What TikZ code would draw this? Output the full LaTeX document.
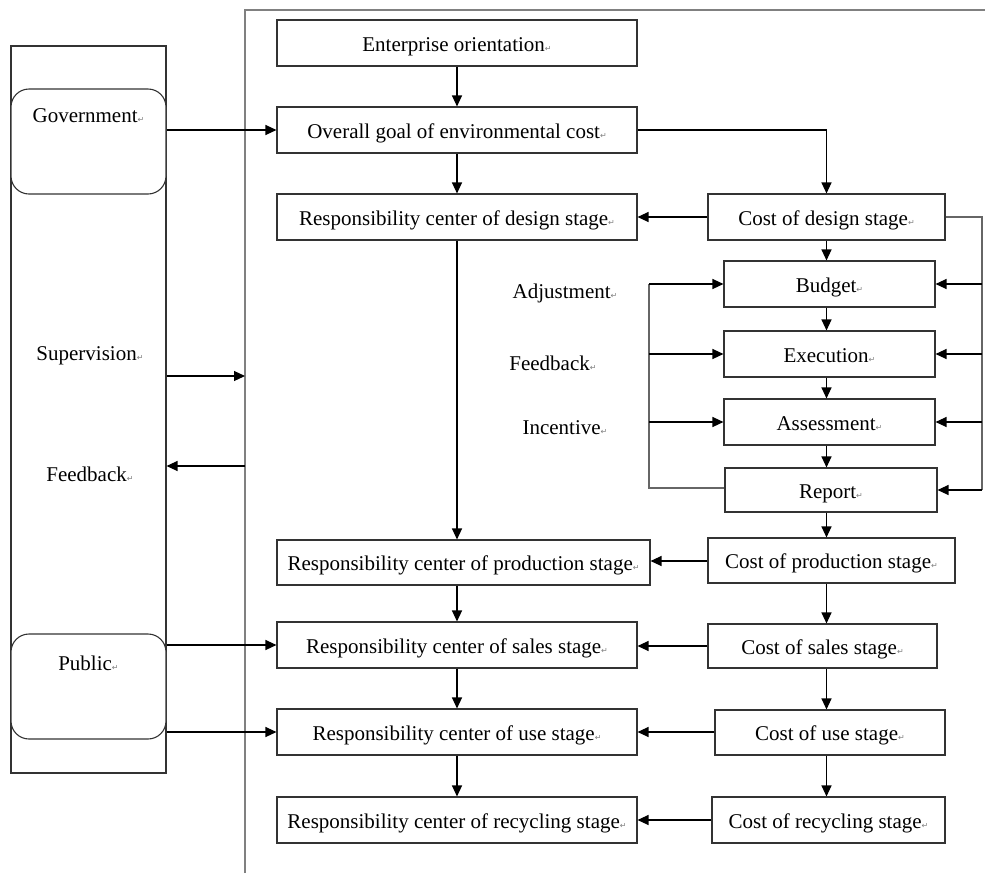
\documentclass[tikz,border=0pt]{standalone}
\usepackage{fontspec}
\setmainfont{Liberation Serif}
\newfontfamily\symfont{DejaVu Sans}
\usetikzlibrary{arrows.meta, positioning}
\newcommand{\retmark}{{\symfont\fontsize{8}{8}\selectfont\color{gray}↵}}
\tikzset{>={Triangle[length=11pt,width=10pt]}, % filled arrow heads
stagebox/.style={draw=black!80, line width=1.1pt, inner sep=0pt, minimum height=46pt, text height=16pt, text depth=0pt, font=\fontsize{21}{24}\selectfont},
roundbox/.style={draw=black!80, line width=1.1pt, rounded corners=18pt, inner sep=0pt, minimum width=155pt, minimum height=105pt},
plaintext/.style={inner sep=0pt, font=\fontsize{21}{24}\selectfont},
link/.style={->, line width=1.2pt},
frameline/.style={draw=black!50, line width=1.5pt},
}

\begin{document}
\begin{tikzpicture}[x=1pt, y=-1pt]
  \useasboundingbox (0,0) rectangle (985,873);
  % outer frame of the enterprise side
  \coordinate (fbot) at (245,873);
  \coordinate (ftop) at (245,10);
  \coordinate (fright) at (985,10);
  \draw[frameline] (fbot) -- (ftop) -- (fright);

  % outside column
  \node[draw=black!80, line width=1.1pt, minimum width=155pt, minimum height=727pt, inner sep=0pt] (outside) at (88.5,409.5) {};
  \node[roundbox, fill=white, label={[plaintext, anchor=north, yshift=-20pt]north:Government\retmark}] (gov) at (88.5,141.5) {};
  \node[roundbox, fill=white, label={[plaintext, anchor=north, yshift=-22pt]north:Public\retmark}] (pub) at (88.5,686.5) {};
  \node[plaintext] (superv) at (90,356) {Supervision\retmark};
  \node[plaintext] (feedb) at (90,474) {Feedback\retmark};

  % responsibility centers
  \node[stagebox, minimum width=360pt] (ent) at (457,43) {Enterprise orientation\retmark};
  \node[stagebox, minimum width=360pt] (goal) at (457,130) {Overall goal of environmental cost\retmark};
  \node[stagebox, minimum width=360pt] (rdes) at (457,217) {Responsibility center of design stage\retmark};
  \node[stagebox, minimum width=373pt, minimum height=45pt] (rprod) at (463.5,562.5) {Responsibility center of production stage\retmark};
  \node[stagebox, minimum width=360pt] (rsal) at (457,645) {Responsibility center of sales stage\retmark};
  \node[stagebox, minimum width=360pt] (ruse) at (457,732) {Responsibility center of use stage\retmark};
  \node[stagebox, minimum width=360pt] (rrec) at (457,820) {Responsibility center of recycling stage\retmark};

  % costs
  \node[stagebox, minimum width=237pt] (cdes) at (826.5,217) {Cost of design stage\retmark};
  \node[stagebox, minimum width=211pt] (bud) at (829.5,284) {Budget\retmark};
  \node[stagebox, minimum width=211pt] (exe) at (829.5,354) {Execution\retmark};
  \node[stagebox, minimum width=211pt] (ass) at (829.5,422) {Assessment\retmark};
  \node[stagebox, minimum width=212pt, minimum height=44pt] (rep) at (831,490) {Report\retmark};
  \node[stagebox, minimum width=247pt, minimum height=45pt] (cprod) at (831.5,560.5) {Cost of production stage\retmark};
  \node[stagebox, minimum width=229pt, minimum height=44pt] (csal) at (822.5,646) {Cost of sales stage\retmark};
  \node[stagebox, minimum width=230pt, minimum height=45pt] (cuse) at (830,732.5) {Cost of use stage\retmark};
  \node[stagebox, minimum width=233pt] (crec) at (828.5,820) {Cost of recycling stage\retmark};

  \node[plaintext] (adj) at (565,293) {Adjustment\retmark};
  \node[plaintext] (fdb) at (553,363) {Feedback\retmark};
  \node[plaintext] (inc) at (565,428) {Incentive\retmark};

  % loop corners
  \coordinate (rloop) at (982,217);
  \coordinate (lloop) at (649,488);

  % outside links
  \draw[link] (gov.east |- goal) -- (goal.west);
  \draw[link] (pub.east |- rsal) -- (rsal.west);
  \draw[link] (pub.east |- ruse) -- (ruse.west);
  \draw[link] (outside.east |- 0,376) -- (ftop |- 0,376);
  \draw[link] (ftop |- 0,466) -- (outside.east |- 0,466);

  % main chain
  \draw[link] (ent) -- (goal);
  \draw[link] (goal) -- (rdes);
  \draw[link] (rdes.south) -- (rdes.south |- rprod.north);
  \draw[link] (rprod.south -| rsal) -- (rsal.north);
  \draw[link] (rsal) -- (ruse);
  \draw[link] (ruse) -- (rrec);
  \draw[link] (goal.east) -| (cdes.north);

  % cost chain
  \draw[link] (cdes.south) -- (cdes.south |- bud.north);
  \draw[link] (bud.south -| cdes) -- (exe.north -| cdes);
  \draw[link] (exe.south -| cdes) -- (ass.north -| cdes);
  \draw[link] (ass.south -| cdes) -- (rep.north -| cdes);
  \draw[link] (rep.south -| cdes) -- (cprod.north -| cdes);
  \draw[link] (cprod.south -| cdes) -- (csal.north -| cdes);
  \draw[link] (csal.south -| cdes) -- (cuse.north -| cdes);
  \draw[link] (cuse.south -| cdes) -- (crec.north -| cdes);

  % costs to centers
  \draw[link] (cdes.west) -- (rdes.east);
  \draw[link] (cprod.west |- 0,561) -- (rprod.east |- 0,561);
  \draw[link] (csal.west |- 0,646) -- (rsal.east |- 0,646);
  \draw[link] (cuse.west |- 0,732) -- (ruse.east |- 0,732);
  \draw[link] (crec.west) -- (rrec.east);

  % right loop
  \draw[line width=1.1pt, draw=black!60] (cdes.east) -- (rloop) -- (rloop |- rep);
  \draw[link] (rloop |- bud) -- (bud.east);
  \draw[link] (rloop |- exe) -- (exe.east);
  \draw[link] (rloop |- ass) -- (ass.east);
  \draw[link] (rloop |- rep) -- (rep.east);

  % left loop
  \draw[line width=1.1pt, draw=black!60] (rep.west |- lloop) -- (lloop) -- (lloop |- bud);
  \draw[link] (lloop |- bud) -- (bud.west);
  \draw[link] (lloop |- exe) -- (exe.west);
  \draw[link] (lloop |- ass) -- (ass.west);
\end{tikzpicture}
\end{document}
